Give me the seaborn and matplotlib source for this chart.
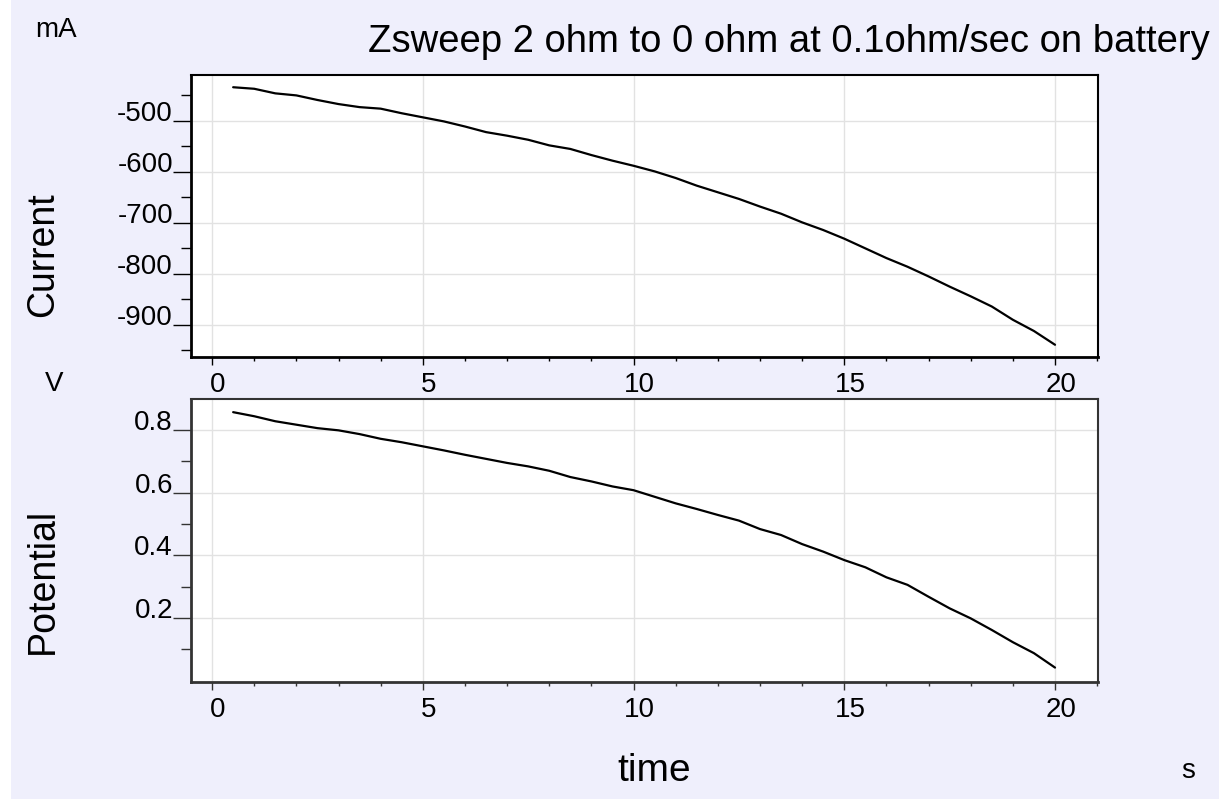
import numpy as np
import pandas as pd
import matplotlib
matplotlib.use("Agg")
import matplotlib.pyplot as plt
import matplotlib.ticker as mticker
import matplotlib.transforms as mtrans
from matplotlib.patches import Rectangle
import seaborn as sns

# sweep samples, every 0.5 s
time = [0.5, 1.0, 1.5, 2.0, 2.5, 3.0, 3.5, 4.0, 4.5, 5.0,
        5.5, 6.0, 6.5, 7.0, 7.5, 8.0, 8.5, 9.0, 9.5, 10.0,
        10.5, 11.0, 11.5, 12.0, 12.5, 13.0, 13.5, 14.0, 14.5, 15.0,
        15.5, 16.0, 16.5, 17.0, 17.5, 18.0, 18.5, 19.0, 19.5, 20.0]
current = [-434, -437, -446, -450, -459, -467, -473, -476, -485, -493,
           -501, -511, -522, -529, -537, -548, -555, -567, -578, -588,
           -599, -612, -627, -640, -653, -668, -682, -699, -714, -731,
           -750, -769, -786, -805, -825, -844, -864, -890, -912, -939]
potential = [0.857, 0.844, 0.828, 0.817, 0.806, 0.799, 0.787, 0.772, 0.761, 0.748,
             0.735, 0.721, 0.708, 0.695, 0.684, 0.670, 0.650, 0.636, 0.620, 0.608,
             0.587, 0.566, 0.548, 0.529, 0.511, 0.484, 0.465, 0.436, 0.412, 0.385,
             0.362, 0.330, 0.306, 0.268, 0.231, 0.199, 0.162, 0.123, 0.088, 0.042]

title = "Zsweep 2 ohm to 0 ohm at 0.1ohm/sec on battery"

df = pd.DataFrame({"time": time, "current": current, "potential": potential})

sns.set_theme(style="whitegrid")
plt.rcParams["font.family"] = ["Liberation Sans", "DejaVu Sans"]
plt.rcParams["axes.unicode_minus"] = False

bg = "#EFEFFC"
fig = plt.figure(figsize=(12.19, 7.99), dpi=100, facecolor=bg)
fig.patches.append(Rectangle((0, 0), 11 / 1219, 1, transform=fig.transFigure,
                             facecolor="white", edgecolor="none", zorder=-1))

ax1 = fig.add_axes([191 / 1219, 1 - 357 / 799, 907 / 1219, 282 / 799])
ax2 = fig.add_axes([191 / 1219, 1 - 682 / 799, 907 / 1219, 283 / 799])

sns.lineplot(data=df, x="time", y="current", ax=ax1, color="black", linewidth=1.6)
sns.lineplot(data=df, x="time", y="potential", ax=ax2, color="black", linewidth=1.6)

ax1.set_ylim(-963, -410)
ax1.yaxis.set_major_locator(mticker.FixedLocator([-900, -800, -700, -600, -500]))
ax1.yaxis.set_minor_locator(mticker.FixedLocator([-950, -850, -750, -650, -550, -450]))
ax2.set_ylim(-0.004, 0.899)
ax2.yaxis.set_major_locator(mticker.FixedLocator([0.2, 0.4, 0.6, 0.8]))
ax2.yaxis.set_minor_locator(mticker.FixedLocator([0.1, 0.3, 0.5, 0.7]))
ax2.yaxis.set_major_formatter(mticker.FormatStrFormatter("%.1f"))

for ax, edge in [(ax1, "black"), (ax2, "#333333")]:
    ax.set_facecolor("white")
    ax.set_xlim(-0.5, 21.02)
    ax.xaxis.set_major_locator(mticker.MultipleLocator(5))
    ax.xaxis.set_minor_locator(mticker.MultipleLocator(1))
    ax.set_xlabel("")
    ax.set_ylabel("")
    ax.grid(True, which="major", color="#E2E2E2", linewidth=1.0)
    ax.grid(False, which="minor")
    for s in ax.spines.values():
        s.set_visible(True)
        s.set_color(edge)
        s.set_linewidth(1.5)
    ax.spines["left"].set_linewidth(2.0)
    ax.spines["bottom"].set_linewidth(2.0)
    ax.tick_params(axis="y", which="major", direction="out", length=13, width=1.0,
                   color=edge, pad=0, labelsize=20, labelcolor="black", left=True)
    ax.tick_params(axis="y", which="minor", direction="out", length=7, width=1.0,
                   color=edge, left=True)
    ax.tick_params(axis="x", which="major", direction="out", length=6, width=1.0,
                   color=edge, pad=5, labelsize=20, labelcolor="black", bottom=True)
    ax.tick_params(axis="x", which="minor", direction="out", length=3, width=1.0,
                   color=edge, bottom=True)
    for lab in ax.get_yticklabels():
        lab.set_verticalalignment("baseline")
    shift = mtrans.ScaledTranslation(6 / 100, 0, fig.dpi_scale_trans)
    for lab in ax.get_xticklabels():
        lab.set_transform(lab.get_transform() + shift)

fig.text(0.9926, 0.935, title, ha="right", va="baseline", fontsize=27.5, color="black")
fig.text(0.0287, 0.954, "mA", ha="left", va="baseline", fontsize=20, color="black")
fig.text(0.0443, 0.511, "V", ha="center", va="baseline", fontsize=20, color="black")
fig.text(0.9746, 0.0263, "s", ha="center", va="baseline", fontsize=20, color="black")
fig.text(0.5365, 0.0225, "time", ha="center", va="baseline", fontsize=28, color="black")
fig.text(0.0355, 0.681, "Current", ha="center", va="center", rotation=90,
         fontsize=27, color="black")
fig.text(0.0355, 0.273, "Potential", ha="center", va="center", rotation=90,
         fontsize=27, color="black")

fig.savefig("out.png", dpi=100, facecolor=bg)
